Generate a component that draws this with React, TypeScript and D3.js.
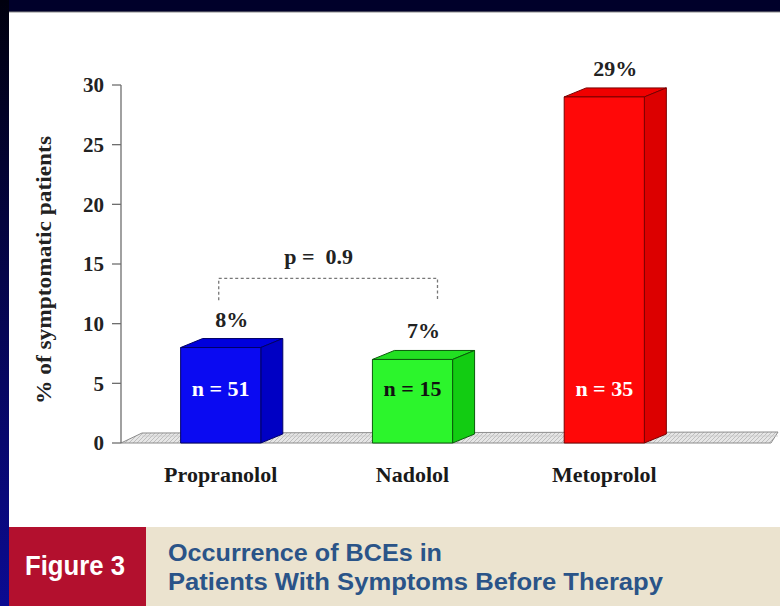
import React from "react";
import * as d3 from "d3";

// Beta-blocker groups and their share of symptomatic patients
const categories = ["Propranolol", "Nadolol", "Metoprolol"];
const percents = [8, 7, 29];
const sampleSizes = [51, 15, 35];
const yTicks = [0, 5, 10, 15, 20, 25, 30];
const pValueText = "p =  0.9";
const captionLines = ["Occurrence of BCEs in", "Patients With Symptoms Before Therapy"];

// Face colours per bar: front, top, side, outline, inner label
const barStyles = [
  { front: "#0a0af2", top: "#0000dc", side: "#0000c4", stroke: "#000066", label: "#ffffff" },
  { front: "#2cf52c", top: "#22e022", side: "#12cc12", stroke: "#0b5a0b", label: "#111111" },
  { front: "#ff0808", top: "#f00000", side: "#dc0000", stroke: "#7a0000", label: "#ffffff" },
];

const W = 780;
const H = 606;
const SERIF = "'Liberation Serif', 'Times New Roman', serif";
const NARROW = "'Liberation Sans Narrow', 'Liberation Sans', Arial, sans-serif";

export default function App() {
  const axisX = 121;
  const y = d3.scaleLinear().domain([0, 30]).range([443, 85]);
  const x = d3
    .scaleBand<string>()
    .domain(categories)
    .range([axisX, 704])
    .paddingInner(0.582)
    .paddingOuter(0.311);
  const bw = x.bandwidth();
  const dx = 22;
  const dy = -9;
  const y0 = y(0);

  const pts = (p: [number, number][]) => p.map((d) => d.join(",")).join(" ");

  // bracket linking the first two groups
  const bx0 = (x(categories[0]) as number) + bw / 2 - 2;
  const bx1 = (x(categories[1]) as number) + bw / 2 + 25;
  const by = y(13.8);

  return (
    <svg
      width={W}
      height={H}
      style={{ position: "absolute", left: 0, top: 0, display: "block" }}
    >
      <defs>
        <linearGradient id="edge" x1="0" y1="0" x2="0" y2="1">
          <stop offset="0" stopColor="#00000e" />
          <stop offset="1" stopColor="#0b0b92" />
        </linearGradient>
        <pattern id="hatch" width="4" height="4" patternUnits="userSpaceOnUse">
          <rect width="4" height="4" fill="#e6e6e6" />
          <path d="M0,4 L4,0" stroke="#b4b4b4" strokeWidth="0.8" />
        </pattern>
      </defs>

      {/* frame */}
      <rect x={0} y={0} width={W} height={H} fill="#00002a" />
      <rect x={0} y={0} width={9} height={H} fill="url(#edge)" />
      <rect x={9} y={12} width={W - 9} height={515} fill="#ffffff" />
      <line x1={9} x2={W} y1={12} y2={12} stroke="#8a8a8a" strokeWidth={1.2} />

      {/* floor slab */}
      <polygon
        points={pts([
          [axisX, y0],
          [axisX + 21, y0 - 10],
          [778, y0 - 11],
          [771, y0],
        ])}
        fill="url(#hatch)"
        stroke="#8c8c8c"
        strokeWidth={1}
      />
      <line x1={axisX + 21} x2={778} y1={y0 - 7} y2={y0 - 7} stroke="#c8c8c8" strokeWidth={0.8} />

      {/* y axis */}
      <line x1={axisX} x2={axisX} y1={y(30)} y2={y0} stroke="#6e6e6e" strokeWidth={1.3} />
      {yTicks.map((t) => (
        <g key={t}>
          <line x1={axisX - 9} x2={axisX} y1={y(t)} y2={y(t)} stroke="#6e6e6e" strokeWidth={1.3} />
          <text
            x={axisX - 17}
            y={y(t)}
            dy="0.35em"
            textAnchor="end"
            fontFamily={SERIF}
            fontWeight="bold"
            fontSize={21}
            fill="#222"
          >
            {t}
          </text>
        </g>
      ))}
      <text
        transform={`translate(51,270) rotate(-90)`}
        textAnchor="middle"
        fontFamily={SERIF}
        fontWeight="bold"
        fontSize={21}
        fill="#222"
        textLength={268}
        lengthAdjust="spacingAndGlyphs"
      >
        % of symptomatic patients
      </text>

      {/* bars */}
      {categories.map((c, i) => {
        const s = barStyles[i];
        const x0 = x(c) as number;
        const x1 = x0 + bw;
        const yt = y(percents[i]);
        return (
          <g key={c} strokeLinejoin="round">
            <polygon
              points={pts([
                [x0, yt],
                [x0 + dx, yt + dy],
                [x1 + dx, yt + dy],
                [x1, yt],
              ])}
              fill={s.top}
              stroke={s.stroke}
              strokeWidth={1}
            />
            <polygon
              points={pts([
                [x1, yt],
                [x1 + dx, yt + dy],
                [x1 + dx, y0 + dy],
                [x1, y0],
              ])}
              fill={s.side}
              stroke={s.stroke}
              strokeWidth={1}
            />
            <rect
              x={x0}
              y={yt}
              width={bw}
              height={y0 - yt}
              fill={s.front}
              stroke={s.stroke}
              strokeWidth={1}
            />
            <text
              x={x0 + bw / 2}
              y={y(4.6)}
              dy="0.35em"
              textAnchor="middle"
              fontFamily={SERIF}
              fontWeight="bold"
              fontSize={22}
              fill={s.label}
            >
              {`n = ${sampleSizes[i]}`}
            </text>
            <text
              x={x0 + bw / 2 + dx / 2}
              y={yt + dy - 12}
              textAnchor="middle"
              fontFamily={SERIF}
              fontWeight="bold"
              fontSize={22}
              fill="#222"
            >
              {`${percents[i]}%`}
            </text>
            <text
              x={x0 + bw / 2}
              y={482}
              textAnchor="middle"
              fontFamily={SERIF}
              fontWeight="bold"
              fontSize={22}
              fill="#1a1a1a"
            >
              {c}
            </text>
          </g>
        );
      })}

      {/* significance bracket */}
      <path
        d={`M${bx0},${by + 22} V${by} H${bx1} V${by + 22}`}
        fill="none"
        stroke="#777"
        strokeWidth={1.3}
        strokeDasharray="3,2.5"
      />
      <text
        x={bx0 + 100}
        y={by - 14}
        textAnchor="middle"
        fontFamily={SERIF}
        fontWeight="bold"
        fontSize={22}
        fill="#222"
        style={{ whiteSpace: "pre" }}
      >
        {pValueText}
      </text>

      {/* caption band */}
      <rect x={9} y={527} width={137} height={H - 527} fill="#b3102e" />
      <rect x={146} y={527} width={W - 146} height={H - 527} fill="#ebe3cf" />
      <text
        x={25}
        y={575}
        fontFamily={NARROW}
        fontWeight="bold"
        fontSize={28}
        fill="#ffffff"
        textLength={100}
        lengthAdjust="spacingAndGlyphs"
      >
        Figure 3
      </text>
      <text
        x={168}
        y={561}
        fontFamily={NARROW}
        fontWeight="bold"
        fontSize={23}
        fill="#2a5488"
        textLength={274}
        lengthAdjust="spacingAndGlyphs"
      >
        {captionLines[0]}
      </text>
      <text
        x={168}
        y={590}
        fontFamily={NARROW}
        fontWeight="bold"
        fontSize={23}
        fill="#2a5488"
        textLength={495}
        lengthAdjust="spacingAndGlyphs"
      >
        {captionLines[1]}
      </text>
    </svg>
  );
}
